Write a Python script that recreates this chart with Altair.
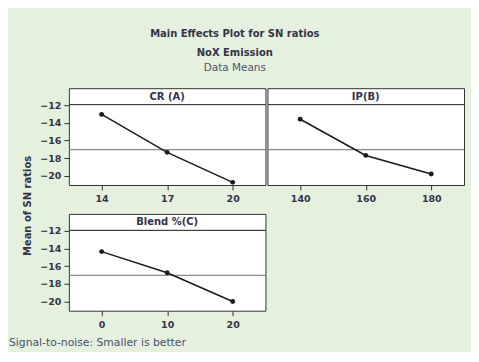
import altair as alt
import pandas as pd

# ---- data ----
panel_titles = ["CR (A)", "IP(B)", "Blend %(C)"]
cr_levels = [14, 17, 20]
cr_sn = [-13.05, -17.35, -20.75]
ip_levels = [140, 160, 180]
ip_sn = [-13.6, -17.7, -19.8]
blend_levels = [0, 10, 20]
blend_sn = [-14.35, -16.75, -20.0]
grand_mean = -17.05
y_ticks = [-12, -14, -16, -18, -20]
y_domain = [-21.05, -11.89]

title_lines = ["Main Effects Plot for SN ratios", "NoX Emission"]
subtitle_text = "Data Means"
y_title = "Mean of SN ratios"
footer_text = "Signal-to-noise: Smaller is better"

BG = "#e5f0de"
INK = "#33334a"
FONT = "DejaVu Sans"
HEADER_H = 16
PLOT_H = 81


def panel(title, levels, values, width, show_y):
    df = pd.DataFrame({"level": levels, "sn": values})
    mean_df = pd.DataFrame({"sn": [grand_mean]})
    header = (
        alt.Chart(pd.DataFrame({"t": [title]}))
        .mark_text(font=FONT, fontWeight="bold", fontSize=10, color=INK,
                   baseline="middle", align="center")
        .encode(text="t:N", x=alt.value(width / 2), y=alt.value(HEADER_H / 2 + 0.5))
        .properties(width=width, height=HEADER_H,
                    view=alt.ViewBackground(fill="white", stroke="#333333", strokeWidth=1))
    )
    if show_y:
        yaxis = alt.Axis(values=y_ticks, format="d")
    else:
        yaxis = None
    x = alt.X("level:O", title=None, axis=alt.Axis(labelAngle=0))
    y = alt.Y("sn:Q", title=None,
              scale=alt.Scale(domain=y_domain, nice=False, zero=False),
              axis=yaxis)
    rule = alt.Chart(mean_df).mark_rule(color="#8a8a8a", strokeWidth=1.2).encode(y=y)
    base = alt.Chart(df).encode(x=x, y=y)
    line = base.mark_line(color="#1a1a1a", strokeWidth=1.5)
    pts = base.mark_circle(color="#1a1a1a", size=24, opacity=1)
    plot = alt.layer(rule, line, pts).properties(
        width=width, height=PLOT_H,
        view=alt.ViewBackground(fill="white", stroke="#333333", strokeWidth=1))
    return alt.vconcat(header, plot, spacing=0, bounds="flush")


pa = panel(panel_titles[0], cr_levels, cr_sn, 197, True)
pb = panel(panel_titles[1], ip_levels, ip_sn, 197, False)
pc = panel(panel_titles[2], blend_levels, blend_sn, 197, True)

row1 = alt.hconcat(pa, pb, spacing=-5)
grid = alt.vconcat(row1, pc, spacing=9)

ytitle = (
    alt.Chart(pd.DataFrame({"t": [y_title]}))
    .mark_text(angle=270, font=FONT, fontWeight="bold", fontSize=10, color=INK,
               baseline="middle", align="center")
    .encode(text="t:N", x=alt.value(19), y=alt.value(118))
    .properties(width=29, height=230, view=alt.ViewBackground(fill=BG, stroke=BG))
)

footer = (
    alt.Chart(pd.DataFrame({"t": [footer_text]}))
    .mark_text(align="left", baseline="middle", font=FONT, fontSize=10.8, color="#4a5068")
    .encode(text="t:N", x=alt.value(0), y=alt.value(7))
    .properties(width=200, height=14, view=alt.ViewBackground(fill=BG, stroke=BG))
)

main = alt.hconcat(ytitle, grid, spacing=0)

chart = (
    alt.vconcat(main, footer, spacing=5)
    .properties(
        title=alt.TitleParams(text=title_lines, subtitle=subtitle_text, anchor="middle",
                              offset=14, dx=-2),
        padding={"left": 0, "top": 21, "right": 5, "bottom": 1},
        background=BG,
    )
    .configure_axis(labelFont=FONT, labelFontWeight="bold", labelFontSize=9.5,
                    labelColor=INK, tickColor="#333333", tickSize=5, labelPadding=3,
                    domain=False, grid=False)
    .configure_axisX(labelPadding=4)
    .configure_title(font=FONT, fontWeight="bold", fontSize=10, color=INK, lineHeight=19,
                     subtitleFont=FONT, subtitleFontSize=10.5, subtitleColor="#50546a",
                     subtitlePadding=5)
)

chart.save("out.html", embed_options={"renderer": "svg", "actions": False})
